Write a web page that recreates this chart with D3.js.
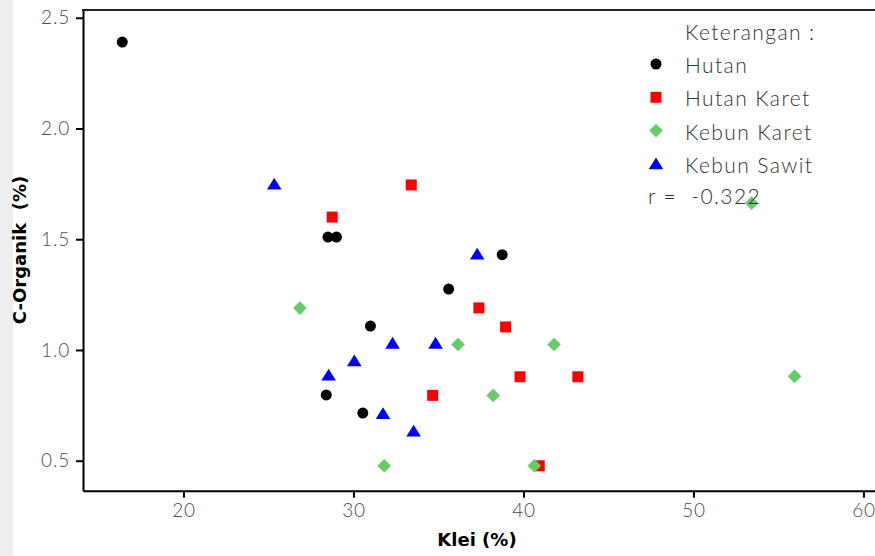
<!DOCTYPE html>
<html>
<head>
<meta charset="utf-8">
<script src="https://cdn.jsdelivr.net/npm/d3@7/dist/d3.min.js"></script>
<style>
  html, body { margin: 0; padding: 0; background: #fff; }
  svg { display: block; }
  .light { font-family: Lato, "Open Sans", sans-serif; font-weight: 300; }
</style>
</head>
<body>
<svg id="chart" width="875" height="556"></svg>
<script>
// ---- data ----
const groups = ["Hutan", "Hutan Karet", "Kebun Karet", "Kebun Sawit"];
const groupColors = ["#000000", "#ff0000", "#66cc66", "#0000ff"];
const groupShapes = ["circle", "square", "diamond", "triangle"];

const hutanKlei    = [16.4, 28.5, 29.0, 38.75, 35.6, 31.0, 28.4, 30.55];
const hutanCorg    = [2.39, 1.51, 1.51, 1.43, 1.275, 1.108, 0.797, 0.715];

const hutanKaretKlei = [33.4, 28.75, 37.38, 38.95, 39.8, 43.2, 34.66, 40.93];
const hutanKaretCorg = [1.745, 1.60, 1.19, 1.104, 0.879, 0.879, 0.795, 0.477];

const kebunKaretKlei = [53.42, 55.95, 26.85, 36.15, 41.8, 38.22, 31.81, 40.64];
const kebunKaretCorg = [1.663, 0.881, 1.189, 1.025, 1.025, 0.795, 0.477, 0.477];

const kebunSawitKlei = [25.34, 37.28, 32.3, 34.83, 30.05, 28.54, 31.74, 33.54];
const kebunSawitCorg = [1.748, 1.432, 1.03, 1.03, 0.95, 0.886, 0.712, 0.633];

const xTicks = [20, 30, 40, 50, 60];
const yTicks = [0.5, 1.0, 1.5, 2.0, 2.5];
const legendTitle = "Keterangan :";
const corrText = "r =  -0.322";
const xTitle = "Klei (%)";
const yTitle = "C-Organik  (%)";

const series = [
  { name: groups[0], x: hutanKlei, y: hutanCorg },
  { name: groups[1], x: hutanKaretKlei, y: hutanKaretCorg },
  { name: groups[2], x: kebunKaretKlei, y: kebunKaretCorg },
  { name: groups[3], x: kebunSawitKlei, y: kebunSawitCorg }
];

// ---- layout ----
const svg = d3.select("#chart");
const W = 875, H = 556;
const mLeft = 83, mRight = 875, mTop = 10, mBottom = 490.7;

// faint left strip of the scanned page
svg.append("rect").attr("x", 0).attr("y", 0).attr("width", 13).attr("height", H).attr("fill", "#eeeef0");

const x = d3.scaleLinear().domain([14.09, 60.68]).range([mLeft, mRight]);
const y = d3.scaleLinear().domain([0.3646, 2.535]).range([mBottom, mTop]);

// shapes
function shapePath(shape) {
  if (shape === "circle") return d3.symbol(d3.symbolCircle, 95)();
  if (shape === "square") return d3.symbol(d3.symbolSquare, 121)();
  if (shape === "diamond") return "M0,-6.8L6.8,0L0,6.8L-6.8,0Z";
  return "M0,-6.5L7.3,5.3L-7.3,5.3Z";
}

// axes
const xAxis = svg.append("g").attr("transform", `translate(0,${mBottom})`)
  .call(d3.axisBottom(x).tickValues(xTicks).tickSize(7).tickSizeOuter(0).tickPadding(6).tickFormat(d3.format("d")));
const yAxis = svg.append("g").attr("transform", `translate(${mLeft},0)`)
  .call(d3.axisLeft(y).tickValues(yTicks).tickSize(7).tickSizeOuter(0).tickPadding(6).tickFormat(d3.format(".1f")));

[xAxis, yAxis].forEach(g => {
  g.select(".domain").attr("stroke", "#000").attr("stroke-width", 2);
  g.selectAll(".tick line").attr("stroke", "#000").attr("stroke-width", 2);
  g.selectAll(".tick text").attr("class", "light").attr("font-size", 19)
    .attr("letter-spacing", "0.8px").attr("fill", "#4d4d4d");
});

// top border
svg.append("line").attr("x1", mLeft - 1).attr("x2", mRight).attr("y1", mTop).attr("y2", mTop)
  .attr("stroke", "#222").attr("stroke-width", 2);

// points
series.forEach((s, i) => {
  const pts = s.x.map((v, j) => ({ kx: v, cy: s.y[j] }));
  svg.append("g").selectAll("path").data(pts).enter().append("path")
    .attr("d", shapePath(groupShapes[i]))
    .attr("transform", d => `translate(${x(d.kx)},${y(d.cy)})`)
    .attr("fill", groupColors[i]);
});

// legend
const lg = svg.append("g");
const legX = 656, textX = 685;
function legText(sel) {
  return sel.attr("class", "light").attr("font-size", 21).attr("letter-spacing", "1.4px")
    .attr("fill", "#333").style("white-space", "pre");
}
legText(lg.append("text").attr("x", textX).attr("y", 40)).text(legendTitle);
groups.forEach((g, i) => {
  const by = 73 + i * 33.3;
  lg.append("path").attr("d", shapePath(groupShapes[i]))
    .attr("transform", `translate(${legX},${by - 9})`).attr("fill", groupColors[i]);
  legText(lg.append("text").attr("x", textX).attr("y", by)).text(g);
});
legText(lg.append("text").attr("x", 648).attr("y", 204)).text(corrText);

// axis titles
svg.append("text").attr("x", 477).attr("y", 546).attr("text-anchor", "middle")
  .attr("font-family", "DejaVu Sans, Verdana, sans-serif").attr("font-weight", "bold")
  .attr("font-size", 18).attr("fill", "#000").text(xTitle);
svg.append("text").attr("transform", "translate(26,250) rotate(-90)").attr("text-anchor", "middle")
  .attr("font-family", "DejaVu Sans, Verdana, sans-serif").attr("font-weight", "bold")
  .attr("font-size", 18).attr("fill", "#000").style("white-space", "pre").text(yTitle);
</script>
</body>
</html>
